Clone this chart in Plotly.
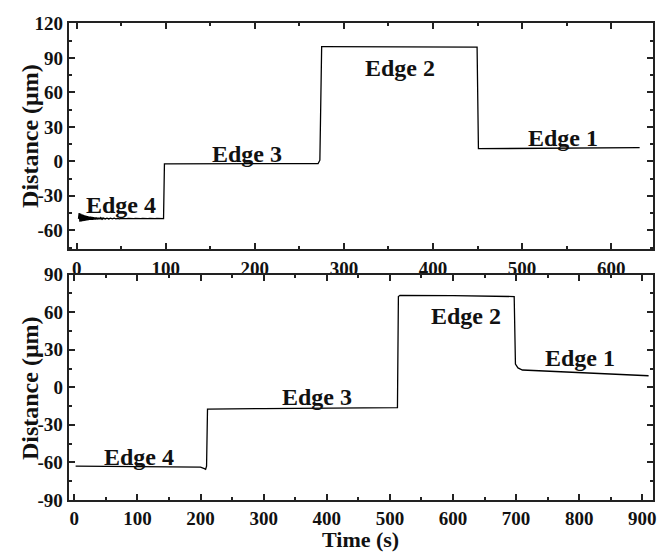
import plotly.graph_objects as go

# ---------------- data ----------------
# Upper panel: oscillating start of Edge 4
top_osc_t = [2.0, 2.8, 3.6, 4.4, 5.2, 6.0, 6.8, 7.6, 8.4, 9.2, 10.0, 10.8, 11.6, 12.4,
             13.2, 14.0, 14.8, 15.6, 16.4, 17.2, 18.0, 18.8, 19.6, 20.4, 21.2, 22.0,
             22.8, 23.6, 24.4, 25.2, 26.0, 26.8, 27.6, 28.4, 29.2, 30.0, 32.0, 34.0,
             36.0, 38.0, 40.0, 42.0, 44.0, 46.0, 48.0, 50.0, 52.0, 54.0, 56.0, 58.0,
             60.0, 62.0, 64.0, 66.0, 68.0, 70.0, 72.0, 74.0, 76.0, 78.0, 80.0, 82.0,
             84.0, 86.0, 88.0, 90.0, 92.0, 94.0]
top_osc_y = [-50.0, -45.0, -52.5, -45.5, -52.3, -46.0, -52.0, -46.5, -51.8, -47.0, -51.6,
             -47.4, -51.4, -47.7, -51.2, -48.0, -51.0, -48.2, -50.9, -48.4, -50.8, -48.6,
             -50.7, -48.8, -50.6, -48.9, -50.5, -49.0, -50.4, -49.1, -50.3, -49.2, -50.2,
             -49.3, -50.2, -49.4, -50.1, -49.4, -50.1, -49.5, -50.0, -49.5, -50.0, -49.6,
             -50.0, -49.6, -49.9, -49.6, -49.9, -49.7, -49.9, -49.7, -49.9, -49.7, -49.9,
             -49.7, -49.9, -49.7, -49.9, -49.7, -49.9, -49.7, -49.9, -49.7, -49.9, -49.7,
             -49.9, -49.7]
# Upper panel: rest of the steps
top_step_t = [97.5, 98.5, 150, 200, 250, 271, 273, 275, 276, 350, 420, 449.5,
              451, 500, 560, 632]
top_step_y = [-49.8, -2.2, -2.1, -2.0, -2.0, -1.9, 1.0, 99.8, 99.8,
              99.7, 99.6, 99.5, 11.0, 11.2, 11.6, 12.0]

# Lower panel
bot_t = [2, 50, 100, 150, 200, 206, 208, 209.5, 211, 300, 400, 512, 513.5, 516, 600,
         650, 697, 699, 703, 710, 800, 910]
bot_y = [-63.0, -63.2, -63.3, -63.5, -63.8, -65.0, -65.5, -63.0, -17.5, -17.0, -16.5,
         -16.3, 72.5, 73.5, 73.3, 73.0, 72.5, 18.5, 15.5, 13.8, 11.8, 9.2]

top_labels = ["Edge 4", "Edge 3", "Edge 2", "Edge 1"]
top_label_t = [50, 191, 363, 546]
top_label_y = [-38, 6, 81.5, 20.5]
bot_labels = ["Edge 4", "Edge 3", "Edge 2", "Edge 1"]
bot_label_t = [103, 384, 621, 801]
bot_label_y = [-56, -7.7, 57, 23]

top_xticks = [0, 100, 200, 300, 400, 500, 600]
top_yticks = [-60, -30, 0, 30, 60, 90, 120]
bot_xticks = [0, 100, 200, 300, 400, 500, 600, 700, 800, 900]
bot_yticks = [-90, -60, -30, 0, 30, 60, 90]

# ---------------- figure ----------------
FONT = "Liberation Serif"
fig = go.Figure()

fig.add_trace(go.Scatter(x=top_osc_t + top_step_t, y=top_osc_y + top_step_y,
                         mode="lines", line=dict(color="black", width=1.3),
                         xaxis="x", yaxis="y", showlegend=False))
fig.add_trace(go.Scatter(x=bot_t, y=bot_y, mode="lines",
                         line=dict(color="black", width=1.3),
                         xaxis="x2", yaxis="y2", showlegend=False))

ann = []
for txt, t, v in zip(top_labels, top_label_t, top_label_y):
    ann.append(dict(x=t, y=v, xref="x", yref="y", text=f"<b>{txt}</b>", showarrow=False,
                    font=dict(family=FONT, size=24, color="#111")))
for txt, t, v in zip(bot_labels, bot_label_t, bot_label_y):
    ann.append(dict(x=t, y=v, xref="x2", yref="y2", text=f"<b>{txt}</b>", showarrow=False,
                    font=dict(family=FONT, size=24, color="#111")))
for yc in (131, 393):
    ann.append(dict(x=30 / 658, y=1 - yc / 559, xref="paper", yref="paper", xanchor="center",
                    yanchor="middle", textangle=-90, showarrow=False,
                    text="<b>Distance (μm)</b>",
                    font=dict(family=FONT, size=24, color="#111")))
ann.append(dict(x=362 / 658, y=0, xref="paper", yref="paper",
                xanchor="center", yanchor="bottom", yshift=-6, showarrow=False,
                text="<b>Time (s)</b>", font=dict(family=FONT, size=22, color="#111")))

axis_common = dict(showline=True, linecolor="#222", linewidth=2, mirror="ticks",
                   ticks="inside", ticklen=6, tickwidth=1.8, tickcolor="#222",
                   showgrid=False, zeroline=False, ticklabeloverflow="allow",
                   tickfont=dict(family=FONT, size=19, color="#111"))
minor_common = dict(ticks="inside", ticklen=3, tickwidth=1.5, tickcolor="#222")

xdom = [69 / 658, 656 / 658]
fig.update_layout(
    width=658, height=559,
    margin=dict(l=0, r=0, t=0, b=0),
    paper_bgcolor="white", plot_bgcolor="white",
    xaxis=dict(domain=xdom, range=[-9, 647], tickvals=top_xticks,
               ticktext=[f"<b>{v}</b>" for v in top_xticks],
               minor=dict(dtick=50, **minor_common), ticklabelstandoff=2,
               anchor="y", **axis_common),
    yaxis=dict(domain=[1 - 248 / 559, 1 - 14 / 559], range=[-76, 120], tickvals=top_yticks,
               ticktext=[f"<b>{v}</b>" for v in top_yticks],
               minor=dict(dtick=15, **minor_common),
               anchor="x", **axis_common),
    xaxis2=dict(domain=xdom, range=[-9, 917], tickvals=bot_xticks,
                ticktext=[f"<b>{v}</b>" for v in bot_xticks],
                minor=dict(dtick=50, **minor_common), ticklabelstandoff=0,
                anchor="y2", **axis_common),
    yaxis2=dict(domain=[1 - 509 / 559, 1 - 275 / 559], range=[-90, 90], tickvals=bot_yticks,
                ticktext=[f"<b>{v}</b>" for v in bot_yticks],
                minor=dict(dtick=15, **minor_common),
                anchor="x2", **axis_common),
    annotations=ann,
)

fig.write_html("out.html")
